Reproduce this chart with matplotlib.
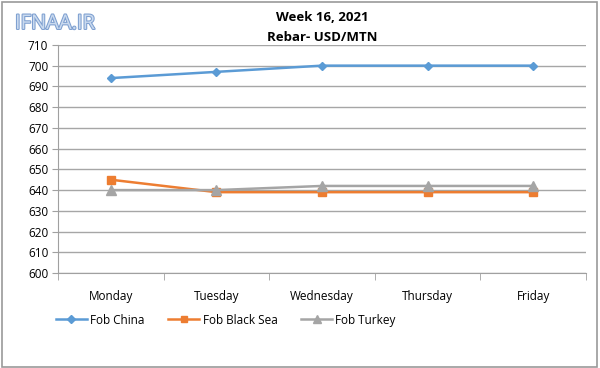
import matplotlib
matplotlib.use("Agg")
import matplotlib.pyplot as plt
import matplotlib.patheffects as pe
from matplotlib.patches import Rectangle
from matplotlib.ticker import FixedLocator

days = ["Monday", "Tuesday", "Wednesday", "Thursday", "Friday"]
fob_china = [694, 697, 700, 700, 700]
fob_black_sea = [645, 639, 639, 639, 639]
fob_turkey = [640, 640, 642, 642, 642]
y_ticks = list(range(600, 711, 10))

plt.rcParams['font.family'] = ['Open Sans', 'DejaVu Sans']

fig = plt.figure(figsize=(6, 3.68), dpi=100)
ax = fig.add_axes([0.0967, 0.258, 0.88, 0.62])

x = list(range(len(days)))
ax.plot(x, fob_china, color='#5B9BD5', lw=1.8, marker='D', ms=4.5, label='Fob China')
ax.plot(x, fob_black_sea, color='#ED7D31', lw=1.8, marker='s', ms=6, label='Fob Black Sea')
ax.plot(x, fob_turkey, color='#A5A5A5', lw=1.8, marker='^', ms=6.5, label='Fob Turkey')

ax.set_xlim(-0.5, len(days) - 0.5)
ax.set_ylim(600, 710)
ax.set_yticks(y_ticks)
ax.set_xticks(x)
ax.set_xticklabels(days, fontsize=8.5)
ax.xaxis.set_minor_locator(FixedLocator([i - 0.5 for i in range(len(days) + 1)]))
ax.tick_params(axis='x', which='major', length=0, pad=12)
ax.tick_params(axis='x', which='minor', length=5, color='#a0a0a0', direction='out')
ax.tick_params(axis='y', length=4, color='#a0a0a0', labelsize=8.5, pad=3)
ax.grid(axis='y', color='#a6a6a6', lw=1)
ax.set_axisbelow(True)
for s in ['top', 'right']:
    ax.spines[s].set_visible(False)
for s in ['left', 'bottom']:
    ax.spines[s].set_color('#a0a0a0')

fig.text(0.537, 0.952, "Week 16, 2021", ha='center', va='center', fontsize=9.5, fontweight='bold')
fig.text(0.537, 0.898, "Rebar- USD/MTN", ha='center', va='center', fontsize=9.5, fontweight='bold')

fig.text(0.025, 0.935, "IFNAA.IR", fontsize=14.5, color='#c9d9ee', ha='left', va='center',
         path_effects=[pe.withStroke(linewidth=1.5, foreground='#7d9fd0')])

ax.legend(loc='center', bbox_to_anchor=(0.318, -0.206), ncol=3, frameon=False,
          fontsize=8.5, handlelength=2.6, columnspacing=2.0, handletextpad=0.3,
          markerscale=0.8)

fig.patches.append(Rectangle((0.003, 0.004), 0.992, 0.99, transform=fig.transFigure,
                             fill=False, edgecolor='#9a9a9a', lw=1.2))

fig.savefig("out.png", dpi=100)
